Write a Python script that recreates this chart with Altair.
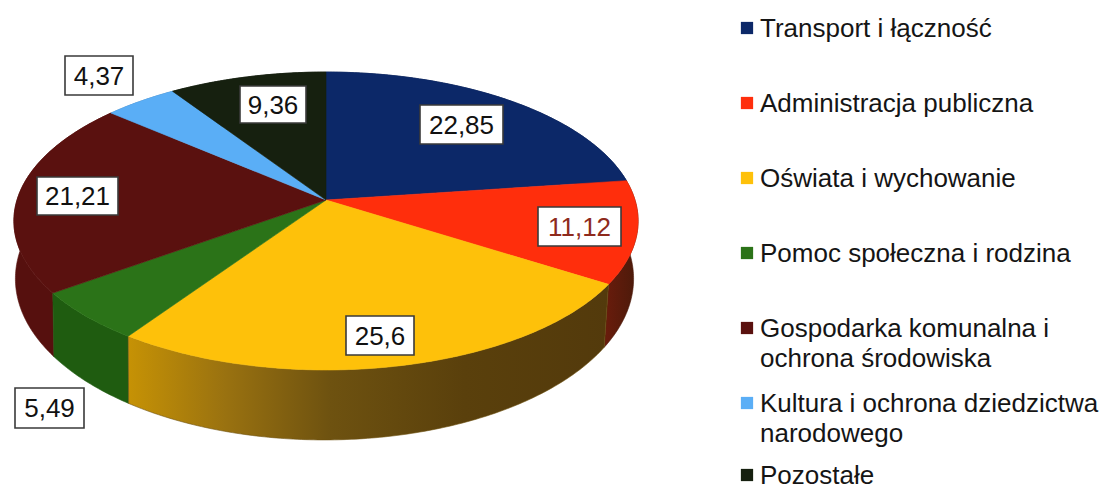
import math
import altair as alt
import pandas as pd

categories = ["Transport i łączność", "Administracja publiczna", "Oświata i wychowanie",
              "Pomoc społeczna i rodzina", "Gospodarka komunalna i\nochrona środowiska",
              "Kultura i ochrona dziedzictwa\nnarodowego", "Pozostałe"]
values = [22.85, 11.12, 25.6, 5.49, 21.21, 4.37, 9.36]
top_colors = ["#0C2868", "#FF2E0C", "#FEC10A", "#2B7318", "#5A110F", "#5AAEF6", "#16200F"]
side_colors = ["#0A1D4A", None, None, "#1F5C10", "#56100E", "#3F78AA", "#0E150A"]
label_colors = ["#111111", "#8E2A1C", "#111111", "#111111", "#111111", "#111111", "#111111"]

# label box layout (x0, x1, y0, y1), in page pixels
label_boxes = [(420, 503, 105, 144), (538, 621, 207, 246), (346, 414, 316, 355),
               (15, 84, 388, 428), (37, 118, 177, 215), (65, 133, 56, 95), (240, 306, 86, 123)]
legend_rows = [28, 103, 178, 253, 328, 403, 475]

# perspective of the pie's discs
CX, CY, A, B, K = 326, 200, 309, 146, 0.141
CX2, CY2, A2, B2 = 324.5, 256, 306, 158


def rim(t, lower=False):
    u, v = math.sin(t), math.cos(t)
    w = 1 + K * v
    if lower:
        return CX2 + A2 * u / w, CY2 - B2 * v / w
    return CX + A * u / w, CY - B * v / w


def sweep(a0, a1):
    n = max(2, int(abs(a1 - a0) * 1.5))
    return [math.radians(a0 + (a1 - a0) * i / n) for i in range(n + 1)]


bounds = [0]
for val in values:
    bounds.append(bounds[-1] + val * 3.6)

xs = alt.Scale(domain=[8, 1099], nice=False, zero=False)
ys = alt.Scale(domain=[488, 8], nice=False, zero=False)


def polygon(points, fill, stroke):
    df = pd.DataFrame([{"px": p[0], "py": p[1], "i": i} for i, p in enumerate(points)])
    return alt.Chart(df).mark_line(fill=fill, stroke=stroke, strokeWidth=0.6, interpolate="linear-closed").encode(
        x=alt.X("px:Q", scale=xs, axis=None),
        y=alt.Y("py:Q", scale=ys, axis=None),
        order="i:O",
    )


def side(idx, fill, stroke):
    angles = sweep(bounds[idx], bounds[idx + 1])
    pts = [rim(t) for t in angles] + [rim(t, True) for t in reversed(angles)]
    return polygon(pts, fill, stroke)


yellow_grad = alt.Gradient(gradient="linear", x1=0, x2=1, y1=0, y2=0, stops=[
    alt.GradientStop(color="#C69205", offset=0),
    alt.GradientStop(color="#9A7210", offset=0.2),
    alt.GradientStop(color="#6E5210", offset=0.42),
    alt.GradientStop(color="#5A400C", offset=0.7),
    alt.GradientStop(color="#533A0C", offset=1),
])
red_grad = alt.Gradient(gradient="linear", x1=0, x2=1, y1=0, y2=0, stops=[
    alt.GradientStop(color="#6A1C0C", offset=0),
    alt.GradientStop(color="#4A1A0A", offset=1),
])

layers = []
for i in [6, 5, 0, 4, 1, 3]:
    if i == 1:
        layers.append(side(1, red_grad, "#4A1A0A"))
    else:
        layers.append(side(i, side_colors[i], side_colors[i]))
layers.append(side(2, yellow_grad, "#6E5210"))

for i in range(len(values)):
    angles = sweep(bounds[i], bounds[i + 1])
    pts = [(CX, CY)] + [rim(t) for t in angles]
    layers.append(polygon(pts, top_colors[i], top_colors[i]))

labels = pd.DataFrame({
    "text": [str(v).replace(".", ",") for v in values],
    "x0": [b[0] for b in label_boxes], "x1": [b[1] for b in label_boxes],
    "y0": [b[2] for b in label_boxes], "y1": [b[3] for b in label_boxes],
    "tc": label_colors,
})
labels["xm"] = (labels.x0 + labels.x1) / 2
labels["ym"] = (labels.y0 + labels.y1) / 2
layers.append(alt.Chart(labels).mark_rect(fill="white", stroke="#3a3a3a", strokeWidth=1.6).encode(
    x=alt.X("x0:Q", scale=xs, axis=None), x2="x1:Q",
    y=alt.Y("y0:Q", scale=ys, axis=None), y2="y1:Q"))
layers.append(alt.Chart(labels).mark_text(font="Liberation Sans", fontSize=26, baseline="middle", dy=1).encode(
    x=alt.X("xm:Q", scale=xs, axis=None), y=alt.Y("ym:Q", scale=ys, axis=None),
    text="text:N", color=alt.Color("tc:N", scale=None)))

legend = pd.DataFrame({"cat": categories, "row": legend_rows, "c": top_colors})
legend["sx"] = 747
legend["tx"] = 760
legend["base"] = legend.row + 9
layers.append(alt.Chart(legend).mark_point(shape="square", filled=True, size=150, opacity=1).encode(
    x=alt.X("sx:Q", scale=xs, axis=None), y=alt.Y("row:Q", scale=ys, axis=None),
    color=alt.Color("c:N", scale=None)))
layers.append(alt.Chart(legend).mark_text(font="Liberation Sans", fontSize=26, align="left", baseline="alphabetic",
                                          lineBreak="\n", lineHeight=30, color="#151515").encode(
    x=alt.X("tx:Q", scale=xs, axis=None), y=alt.Y("base:Q", scale=ys, axis=None), text="cat:N"))

chart = alt.layer(*layers).properties(width=1091, height=480, padding=0).configure_view(stroke=None)
chart.save("out.html", embed_options={"renderer": "svg", "actions": False})
